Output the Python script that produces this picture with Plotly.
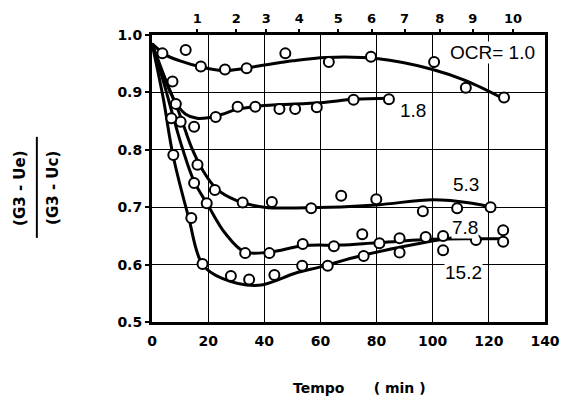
import plotly.graph_objects as go

# ---- data ----
x_ticks = [0, 20, 40, 60, 80, 100, 120, 140]
y_ticks = [0.5, 0.6, 0.7, 0.8, 0.9, 1.0]
y_tick_text = ["0.5", "0.6", "0.7", "0.8", "0.9", "1.0"]
top_tick_pos = [16.1, 30, 40.7, 52.5, 66.4, 78.2, 90, 102.5, 114.3, 128.6]
top_tick_text = ["1", "2", "3", "4", "5", "6", "7", "8", "9", "10"]

# measured points (open circles)
t_ocr10 = [3.7, 12, 17.4, 26, 33.7, 47.5, 63, 78, 100.5, 111.8, 125.4]
v_ocr10 = [0.968, 0.974, 0.945, 0.940, 0.942, 0.968, 0.953, 0.962, 0.953, 0.908, 0.891]
t_ocr18 = [7.3, 8.5, 10.2, 15, 22.7, 30.5, 36.8, 45.4, 51, 58.7, 71.8, 84.4]
v_ocr18 = [0.919, 0.880, 0.849, 0.840, 0.857, 0.875, 0.875, 0.871, 0.871, 0.874, 0.887, 0.888]
t_ocr53 = [6.9, 16.2, 15, 22.4, 32.3, 42.7, 56.7, 67.4, 79.9, 96.5, 108.7, 120.6]
v_ocr53 = [0.855, 0.774, 0.742, 0.730, 0.708, 0.709, 0.698, 0.720, 0.714, 0.693, 0.698, 0.700]
t_ocr78 = [19.5, 33.2, 41.8, 53.7, 64.8, 74.9, 81, 88.2, 97.5, 103.7, 115.4, 125.1, 125.1]
v_ocr78 = [0.707, 0.620, 0.620, 0.636, 0.632, 0.653, 0.637, 0.646, 0.648, 0.650, 0.643, 0.660, 0.640]
t_ocr152 = [7.6, 14, 18, 28.1, 34.6, 43.6, 53.5, 62.6, 75.4, 88.2, 103.7]
v_ocr152 = [0.791, 0.681, 0.601, 0.580, 0.574, 0.582, 0.598, 0.598, 0.615, 0.621, 0.625]

# fitted curves
c10_t = [0, 5, 10, 17, 26, 38, 50, 62, 80, 100, 112, 126]
c10_v = [0.985, 0.965, 0.955, 0.945, 0.938, 0.946, 0.955, 0.961, 0.959, 0.940, 0.920, 0.887]
c18_t = [0, 4, 8.5, 12, 16, 20, 25, 30, 40, 60, 72, 85]
c18_v = [0.985, 0.93, 0.882, 0.862, 0.855, 0.856, 0.862, 0.870, 0.877, 0.882, 0.888, 0.890]
c53_t = [0, 5, 10, 14, 18, 23, 30, 40, 55, 80, 100, 114, 121]
c53_v = [0.985, 0.92, 0.86, 0.805, 0.765, 0.732, 0.712, 0.700, 0.699, 0.704, 0.713, 0.707, 0.700]
c78_t = [0, 4, 8, 11, 15, 20, 26, 33, 42, 54, 67, 80, 100, 114, 125]
c78_v = [0.985, 0.92, 0.85, 0.80, 0.745, 0.703, 0.655, 0.622, 0.622, 0.633, 0.634, 0.638, 0.644, 0.645, 0.645]
c152_t = [0, 4, 7.5, 13, 18, 25, 38, 51, 60, 74, 90, 102, 110]
c152_v = [0.985, 0.89, 0.79, 0.683, 0.60, 0.576, 0.564, 0.585, 0.596, 0.615, 0.632, 0.643, 0.648]

labels = ["OCR= 1.0", "1.8", "5.3", "7.8", "15.2"]
label_t = [121.4, 92.9, 112, 111.4, 111]
label_v = [0.969, 0.869, 0.739, 0.664, 0.587]

FONT = "DejaVu Sans"
TICKFONT = dict(family=FONT, size=14, weight="bold", color="black")
TOPFONT = dict(family=FONT, size=13, weight="bold", color="black")

fig = go.Figure()
curves = [(c10_t, c10_v), (c18_t, c18_v), (c53_t, c53_v), (c78_t, c78_v), (c152_t, c152_v)]
for ct, cv in curves:
    fig.add_trace(go.Scatter(x=ct, y=cv, mode="lines", line=dict(color="black", width=3, shape="spline", smoothing=1.0),
                             hoverinfo="skip", showlegend=False))
pts = [(t_ocr10, v_ocr10), (t_ocr18, v_ocr18), (t_ocr53, v_ocr53), (t_ocr78, v_ocr78), (t_ocr152, v_ocr152)]
for pt, pv in pts:
    fig.add_trace(go.Scatter(x=pt, y=pv, mode="markers",
                             marker=dict(symbol="circle", size=10, color="white", line=dict(color="black", width=2)),
                             showlegend=False))
# invisible trace for top axis
fig.add_trace(go.Scatter(x=[0, 140], y=[0.5, 0.5], xaxis="x2", mode="markers", marker=dict(opacity=0),
                         hoverinfo="skip", showlegend=False))

for txt, lt, lv in zip(labels, label_t, label_v):
    fig.add_annotation(x=lt, y=lv, text=txt, showarrow=False,
                       font=dict(family="Liberation Sans", size=19, color="black", weight="normal"),
                       bgcolor="white", borderpad=0)

# the page body has an 8px default margin, so the figure is 8px smaller on each side
fig.update_layout(
    width=560, height=395,
    margin=dict(l=144, r=23, t=27, b=81, autoexpand=False),
    paper_bgcolor="white", plot_bgcolor="white",
    font=dict(family=FONT, size=12, color="black"),
    xaxis=dict(range=[0, 140], tickvals=x_ticks, showgrid=True, gridcolor="black", gridwidth=1.3,
               showline=True, linecolor="black", linewidth=3, mirror=True, ticks="", zeroline=False,
               tickfont=TICKFONT, ticklabelstandoff=4, automargin=False),
    xaxis2=dict(range=[0, 140], overlaying="x", side="top", tickvals=top_tick_pos, ticktext=top_tick_text,
                ticks="outside", ticklen=5, tickwidth=1.5, tickcolor="black", showgrid=False, zeroline=False,
                tickfont=TOPFONT, ticklabelstandoff=1, automargin=False),
    yaxis=dict(range=[0.5, 1.0], tickvals=y_ticks, ticktext=y_tick_text, showgrid=True, gridcolor="black", gridwidth=1.3,
               showline=True, linecolor="black", linewidth=3, mirror=True, ticks="outside", ticklen=4, tickwidth=1.5,
               tickcolor="black", zeroline=False, tickfont=TICKFONT, automargin=False),
)

# x-axis title
fig.add_annotation(xref="paper", yref="paper", x=0.527, y=-0.23, xanchor="center", yanchor="middle",
                   text="Tempo&nbsp;&nbsp;&nbsp;&nbsp;&nbsp;&nbsp;( min )", showarrow=False,
                   font=dict(family=FONT, size=14, weight="bold"))

# y-axis title as a rotated fraction
fig.add_annotation(xref="paper", yref="paper", x=-0.336, y=0.467, xanchor="center", yanchor="middle",
                   text="(G3 - Ue)", textangle=-90, showarrow=False,
                   font=dict(family=FONT, size=15, weight="bold"))
fig.add_annotation(xref="paper", yref="paper", x=-0.252, y=0.467, xanchor="center", yanchor="middle",
                   text="(G3 - Uc)", textangle=-90, showarrow=False,
                   font=dict(family=FONT, size=15, weight="bold"))
fig.add_shape(type="rect", xref="paper", yref="paper", x0=-0.2955, x1=-0.2905, y0=0.293, y1=0.645,
              line=dict(width=0), fillcolor="black")

fig.write_html("out.html")
